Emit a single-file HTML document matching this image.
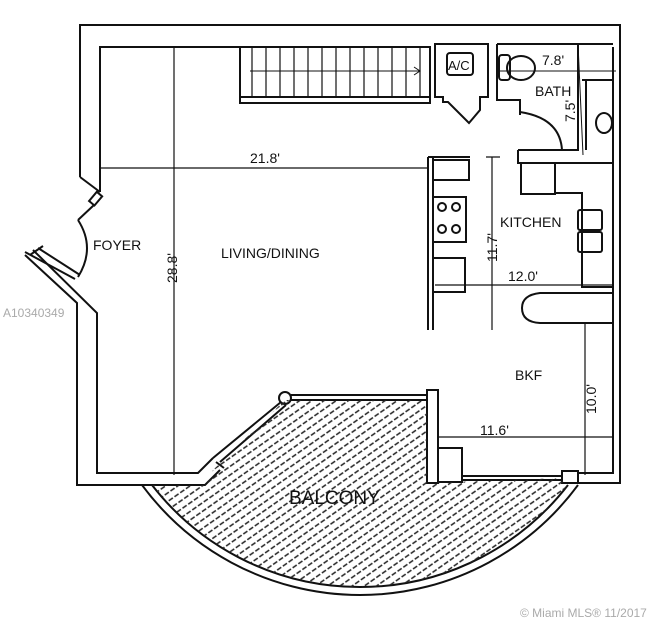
<!DOCTYPE html>
<html><head><meta charset="utf-8">
<style>
html,body{margin:0;padding:0;background:#fff;}
svg{display:block;}
text{font-family:"Liberation Sans",sans-serif;fill:#111;}
</style></head><body>
<svg width="653" height="621" viewBox="0 0 653 621" xmlns="http://www.w3.org/2000/svg">
<defs>
<pattern id="h" width="7" height="7" patternUnits="userSpaceOnUse" patternTransform="rotate(-35)">
<line x1="0" y1="3" x2="7" y2="3" stroke="#222" stroke-width="1.4" stroke-dasharray="3 2"/>
</pattern>
<clipPath id="bc"><path d="M213,470 L285,400 L427,400 L427,483 L562,478 L568,485 A263 263 0 0 1 152,485 L205,485 Z"/></clipPath>
</defs>
<g fill="none" stroke="#111" stroke-width="2">
<path d="M80,177 L80,25 L620,25 L620,483 L578,483"/>
<path d="M100,192 L100,47 L240,47"/>
<path d="M613,47 L613,473 L578,473"/>
<path d="M80,177 L100,192"/>
<path d="M25,255 L77,303 L77,485 L205,485 L220,470"/>
<path d="M33,250 L97,313 L97,473 L198,473 L213,458"/>
<rect x="92" y="193" width="7" height="12" transform="rotate(40 96 199)"/>
<path d="M94,205 L78,220"/>
<path d="M78,220 Q96,248 78,277"/>
<path d="M25,252 L75,279 M38,248 L80,275 M30,255 L43,246"/>
<rect x="240" y="47" width="190" height="56"/>
<path d="M240,97 L430,97"/>
<path stroke-width="1.2" d="M252,47V97M266,47V97M280,47V97M294,47V97M308,47V97M322,47V97M336,47V97M350,47V97M364,47V97M378,47V97M392,47V97M406,47V97M420,47V97"/>
<path stroke-width="1" d="M250,71 L420,71 M414,67 L420,71 L414,75"/>
<path d="M435,44 L488,44 L488,97 L480,97 L480,110 L469,123 L448,102 L443,102 L443,97 L435,97 Z"/>
<rect x="447" y="53" width="26" height="22" rx="3"/>
<text x="448" y="70" font-size="13" stroke="none" style="fill:#111">A/C</text>
<path d="M497,44 L613,44 M497,44 L497,100 L520,100 L520,115"/>
<path d="M520,112 Q560,118 562,150"/>
<path d="M518,150 L578,150 L578,44"/>
<path d="M518,150 L518,157"/>
<ellipse cx="521" cy="68" rx="14" ry="12"/>
<rect x="499" y="55" width="11" height="25" rx="3"/>
<path d="M582,80 L613,80 M586,80 L586,150"/>
<ellipse cx="604" cy="123" rx="8" ry="10"/>
<path stroke-width="1" d="M500,71 L616,71"/>
<path stroke-width="1" d="M578,44 L583,155"/>
<path d="M428,157 L428,330 M433,157 L433,330 M428,157 L470,157"/>
<rect x="433" y="160" width="36" height="20"/>
<rect x="433" y="197" width="33" height="45"/>
<circle cx="442" cy="207" r="4"/><circle cx="456" cy="207" r="4"/>
<circle cx="442" cy="229" r="4"/><circle cx="456" cy="229" r="4"/>
<rect x="433" y="258" width="32" height="34"/>
<path stroke-width="1.2" d="M492,157 L492,330 M486,157 L500,157"/>
<path d="M518,157 L518,163 L613,163"/>
<rect x="521" y="163" width="34" height="31"/>
<path d="M555,193 L582,193 L582,287 L613,287"/>
<rect x="578" y="210" width="24" height="20" rx="2"/>
<rect x="578" y="232" width="24" height="20" rx="2"/>
<path d="M613,293 L540,293 Q522,295 522,308 Q522,322 540,323 L613,323"/>
<path stroke-width="1.2" d="M435,285 L613,285"/>
<path stroke-width="1.2" d="M585,323 L585,475 M438,437 L613,437"/>
<rect x="427" y="390" width="11" height="93"/>
<path d="M438,448 L462,448 L462,482 L438,482"/>
<path d="M462,476 L562,476 M462,480 L562,480"/>
<rect x="562" y="471" width="16" height="12"/>
<path d="M291,395 L427,395 M291,400 L427,400"/>
<circle cx="285" cy="398" r="6"/>
<path d="M213,458 L281,402 M220,462 L286,405 M216,462 L224,468"/>
<path d="M142,485 A271 271 0 0 0 578,485"/>
<path d="M152,485 A263 263 0 0 0 568,485"/>
<path stroke-width="1.2" d="M101,168 L428,168 M174,47 L174,475"/>
</g>
<rect x="130" y="390" width="480" height="231" fill="url(#h)" clip-path="url(#bc)"/>
<g font-size="14">
<text x="93" y="250">FOYER</text>
<text x="221" y="258">LIVING/DINING</text>
<text x="250" y="163">21.8'</text>
<text x="500" y="227">KITCHEN</text>
<text x="508" y="281">12.0'</text>
<text x="535" y="96">BATH</text>
<text x="542" y="65">7.8'</text>
<text x="515" y="380">BKF</text>
<text x="480" y="435">11.6'</text>
<text x="289" y="504" font-size="19">BALCONY</text>
<text transform="translate(177,283) rotate(-90)">28.8'</text>
<text transform="translate(497,262) rotate(-90)">11.7'</text>
<text transform="translate(575,122) rotate(-90)">7.5'</text>
<text transform="translate(596,414) rotate(-90)">10.0'</text>
</g>
<text x="3" y="317" font-size="12" style="fill:#aaa">A10340349</text>
<text x="520" y="617" font-size="12" style="fill:#aaa">© Miami MLS® 11/2017</text>
</svg>
</body></html>
